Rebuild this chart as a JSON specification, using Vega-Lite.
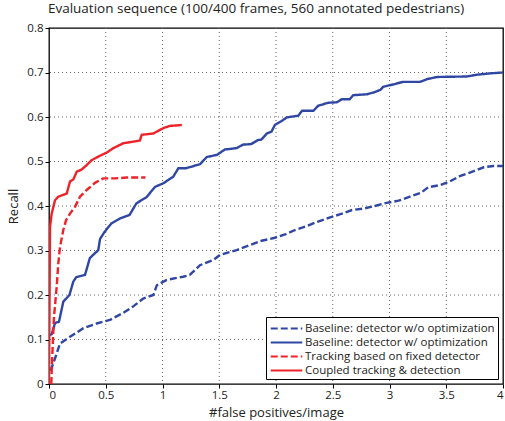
{
  "$schema": "https://vega.github.io/schema/vega-lite/v6.json",
  "width": 454,
  "height": 356,
  "autosize": {"type": "none"},
  "padding": {"left": 49, "top": 28, "right": 2, "bottom": 37},
  "background": "white",
  "title": {"text": "Evaluation sequence (100/400 frames, 560 annotated pedestrians)", "font": "Open Sans", "fontSize": 13.5, "fontWeight": "normal", "color": "#222", "anchor": "middle", "dx": -20, "offset": 7},
  "config": {
    "view": {"stroke": "black", "strokeWidth": 1.3},
    "axis": {"labelFont": "Open Sans", "titleFont": "Open Sans", "labelFontSize": 11.5, "titleFontSize": 13, "titleFontWeight": "normal", "labelColor": "#222", "titleColor": "#222", "domain": false, "tickColor": "black", "tickSize": 4, "grid": false},
    "legend": {"labelFont": "Open Sans", "labelFontSize": 11.5, "labelColor": "#222"}
  },
  "layer": [
    {
      "data": {"values": [{"gx": 0.5}, {"gx": 1}, {"gx": 1.5}, {"gx": 2}, {"gx": 2.5}, {"gx": 3}, {"gx": 3.5}]},
      "mark": {"type": "rule", "color": "#666", "strokeWidth": 1, "strokeDash": [1, 3]},
      "encoding": {"x": {"field": "gx", "type": "quantitative", "scale": {"domain": [0, 4], "nice": false}, "axis": {"title": "#false positives/image", "values": [0, 0.5, 1, 1.5, 2, 2.5, 3, 3.5, 4], "format": "~g", "labelPadding": 1, "titlePadding": 6}}}
    },
    {
      "data": {"values": [{"gy": 0.1}, {"gy": 0.2}, {"gy": 0.3}, {"gy": 0.4}, {"gy": 0.5}, {"gy": 0.6}, {"gy": 0.7}]},
      "mark": {"type": "rule", "color": "#666", "strokeWidth": 1, "strokeDash": [1, 3]},
      "encoding": {"y": {"field": "gy", "type": "quantitative", "scale": {"domain": [0, 0.8], "nice": false}, "axis": {"title": "Recall", "values": [0, 0.1, 0.2, 0.3, 0.4, 0.5, 0.6, 0.7, 0.8], "format": "~g", "labelPadding": 2, "titlePadding": 6}}}
    },
    {
      "data": {"values": [
        {"s": "Baseline: detector w/o optimization", "x": 0.01, "y": 0.03},
        {"s": "Baseline: detector w/o optimization", "x": 0.038, "y": 0.046},
        {"s": "Baseline: detector w/o optimization", "x": 0.068, "y": 0.069},
        {"s": "Baseline: detector w/o optimization", "x": 0.097, "y": 0.091},
        {"s": "Baseline: detector w/o optimization", "x": 0.185, "y": 0.106},
        {"s": "Baseline: detector w/o optimization", "x": 0.30, "y": 0.125},
        {"s": "Baseline: detector w/o optimization", "x": 0.42, "y": 0.136},
        {"s": "Baseline: detector w/o optimization", "x": 0.537, "y": 0.144},
        {"s": "Baseline: detector w/o optimization", "x": 0.655, "y": 0.16},
        {"s": "Baseline: detector w/o optimization", "x": 0.74, "y": 0.174},
        {"s": "Baseline: detector w/o optimization", "x": 0.83, "y": 0.192},
        {"s": "Baseline: detector w/o optimization", "x": 0.92, "y": 0.2},
        {"s": "Baseline: detector w/o optimization", "x": 0.95, "y": 0.222},
        {"s": "Baseline: detector w/o optimization", "x": 1.037, "y": 0.234},
        {"s": "Baseline: detector w/o optimization", "x": 1.18, "y": 0.241},
        {"s": "Baseline: detector w/o optimization", "x": 1.24, "y": 0.245},
        {"s": "Baseline: detector w/o optimization", "x": 1.33, "y": 0.267},
        {"s": "Baseline: detector w/o optimization", "x": 1.45, "y": 0.279},
        {"s": "Baseline: detector w/o optimization", "x": 1.507, "y": 0.29},
        {"s": "Baseline: detector w/o optimization", "x": 1.654, "y": 0.301},
        {"s": "Baseline: detector w/o optimization", "x": 1.77, "y": 0.312},
        {"s": "Baseline: detector w/o optimization", "x": 1.874, "y": 0.322},
        {"s": "Baseline: detector w/o optimization", "x": 1.98, "y": 0.328},
        {"s": "Baseline: detector w/o optimization", "x": 2.08, "y": 0.336},
        {"s": "Baseline: detector w/o optimization", "x": 2.167, "y": 0.346},
        {"s": "Baseline: detector w/o optimization", "x": 2.27, "y": 0.355},
        {"s": "Baseline: detector w/o optimization", "x": 2.37, "y": 0.365},
        {"s": "Baseline: detector w/o optimization", "x": 2.47, "y": 0.374},
        {"s": "Baseline: detector w/o optimization", "x": 2.56, "y": 0.381},
        {"s": "Baseline: detector w/o optimization", "x": 2.67, "y": 0.391},
        {"s": "Baseline: detector w/o optimization", "x": 2.77, "y": 0.394},
        {"s": "Baseline: detector w/o optimization", "x": 2.87, "y": 0.4},
        {"s": "Baseline: detector w/o optimization", "x": 2.975, "y": 0.407},
        {"s": "Baseline: detector w/o optimization", "x": 3.08, "y": 0.412},
        {"s": "Baseline: detector w/o optimization", "x": 3.18, "y": 0.421},
        {"s": "Baseline: detector w/o optimization", "x": 3.28, "y": 0.43},
        {"s": "Baseline: detector w/o optimization", "x": 3.34, "y": 0.442},
        {"s": "Baseline: detector w/o optimization", "x": 3.445, "y": 0.447},
        {"s": "Baseline: detector w/o optimization", "x": 3.53, "y": 0.455},
        {"s": "Baseline: detector w/o optimization", "x": 3.62, "y": 0.467},
        {"s": "Baseline: detector w/o optimization", "x": 3.72, "y": 0.476},
        {"s": "Baseline: detector w/o optimization", "x": 3.83, "y": 0.487},
        {"s": "Baseline: detector w/o optimization", "x": 3.915, "y": 0.49},
        {"s": "Baseline: detector w/o optimization", "x": 4.0, "y": 0.49},
        {"s": "Baseline: detector w/ optimization", "x": 0.005, "y": 0.11},
        {"s": "Baseline: detector w/ optimization", "x": 0.024, "y": 0.112},
        {"s": "Baseline: detector w/ optimization", "x": 0.053, "y": 0.137},
        {"s": "Baseline: detector w/ optimization", "x": 0.088, "y": 0.14},
        {"s": "Baseline: detector w/ optimization", "x": 0.126, "y": 0.185},
        {"s": "Baseline: detector w/ optimization", "x": 0.18, "y": 0.2},
        {"s": "Baseline: detector w/ optimization", "x": 0.214, "y": 0.23},
        {"s": "Baseline: detector w/ optimization", "x": 0.24, "y": 0.24},
        {"s": "Baseline: detector w/ optimization", "x": 0.317, "y": 0.245},
        {"s": "Baseline: detector w/ optimization", "x": 0.36, "y": 0.283},
        {"s": "Baseline: detector w/ optimization", "x": 0.434, "y": 0.301},
        {"s": "Baseline: detector w/ optimization", "x": 0.45, "y": 0.326},
        {"s": "Baseline: detector w/ optimization", "x": 0.49, "y": 0.342},
        {"s": "Baseline: detector w/ optimization", "x": 0.55, "y": 0.361},
        {"s": "Baseline: detector w/ optimization", "x": 0.626, "y": 0.372},
        {"s": "Baseline: detector w/ optimization", "x": 0.71, "y": 0.38},
        {"s": "Baseline: detector w/ optimization", "x": 0.77, "y": 0.406},
        {"s": "Baseline: detector w/ optimization", "x": 0.86, "y": 0.42},
        {"s": "Baseline: detector w/ optimization", "x": 0.934, "y": 0.443},
        {"s": "Baseline: detector w/ optimization", "x": 1.007, "y": 0.451},
        {"s": "Baseline: detector w/ optimization", "x": 1.095, "y": 0.466},
        {"s": "Baseline: detector w/ optimization", "x": 1.14, "y": 0.485},
        {"s": "Baseline: detector w/ optimization", "x": 1.21, "y": 0.485},
        {"s": "Baseline: detector w/ optimization", "x": 1.33, "y": 0.494},
        {"s": "Baseline: detector w/ optimization", "x": 1.39, "y": 0.51},
        {"s": "Baseline: detector w/ optimization", "x": 1.48, "y": 0.515},
        {"s": "Baseline: detector w/ optimization", "x": 1.55, "y": 0.527},
        {"s": "Baseline: detector w/ optimization", "x": 1.654, "y": 0.53},
        {"s": "Baseline: detector w/ optimization", "x": 1.71, "y": 0.538},
        {"s": "Baseline: detector w/ optimization", "x": 1.78, "y": 0.539},
        {"s": "Baseline: detector w/ optimization", "x": 1.84, "y": 0.548},
        {"s": "Baseline: detector w/ optimization", "x": 1.87, "y": 0.549},
        {"s": "Baseline: detector w/ optimization", "x": 1.92, "y": 0.563},
        {"s": "Baseline: detector w/ optimization", "x": 1.96, "y": 0.567},
        {"s": "Baseline: detector w/ optimization", "x": 1.99, "y": 0.582},
        {"s": "Baseline: detector w/ optimization", "x": 2.05, "y": 0.591},
        {"s": "Baseline: detector w/ optimization", "x": 2.094, "y": 0.599},
        {"s": "Baseline: detector w/ optimization", "x": 2.196, "y": 0.603},
        {"s": "Baseline: detector w/ optimization", "x": 2.23, "y": 0.614},
        {"s": "Baseline: detector w/ optimization", "x": 2.33, "y": 0.614},
        {"s": "Baseline: detector w/ optimization", "x": 2.37, "y": 0.625},
        {"s": "Baseline: detector w/ optimization", "x": 2.46, "y": 0.632},
        {"s": "Baseline: detector w/ optimization", "x": 2.535, "y": 0.633},
        {"s": "Baseline: detector w/ optimization", "x": 2.58, "y": 0.64},
        {"s": "Baseline: detector w/ optimization", "x": 2.65, "y": 0.64},
        {"s": "Baseline: detector w/ optimization", "x": 2.68, "y": 0.649},
        {"s": "Baseline: detector w/ optimization", "x": 2.8, "y": 0.651},
        {"s": "Baseline: detector w/ optimization", "x": 2.86, "y": 0.655},
        {"s": "Baseline: detector w/ optimization", "x": 2.92, "y": 0.661},
        {"s": "Baseline: detector w/ optimization", "x": 2.945, "y": 0.668},
        {"s": "Baseline: detector w/ optimization", "x": 3.03, "y": 0.673},
        {"s": "Baseline: detector w/ optimization", "x": 3.12, "y": 0.679},
        {"s": "Baseline: detector w/ optimization", "x": 3.27, "y": 0.679},
        {"s": "Baseline: detector w/ optimization", "x": 3.33, "y": 0.685},
        {"s": "Baseline: detector w/ optimization", "x": 3.42, "y": 0.69},
        {"s": "Baseline: detector w/ optimization", "x": 3.68, "y": 0.691},
        {"s": "Baseline: detector w/ optimization", "x": 3.77, "y": 0.695},
        {"s": "Baseline: detector w/ optimization", "x": 3.885, "y": 0.698},
        {"s": "Baseline: detector w/ optimization", "x": 4.0, "y": 0.70},
        {"s": "Tracking based on fixed detector", "x": 0.02, "y": 0.0},
        {"s": "Tracking based on fixed detector", "x": 0.03, "y": 0.07},
        {"s": "Tracking based on fixed detector", "x": 0.044, "y": 0.151},
        {"s": "Tracking based on fixed detector", "x": 0.068, "y": 0.219},
        {"s": "Tracking based on fixed detector", "x": 0.082, "y": 0.271},
        {"s": "Tracking based on fixed detector", "x": 0.097, "y": 0.308},
        {"s": "Tracking based on fixed detector", "x": 0.126, "y": 0.346},
        {"s": "Tracking based on fixed detector", "x": 0.15, "y": 0.368},
        {"s": "Tracking based on fixed detector", "x": 0.185, "y": 0.383},
        {"s": "Tracking based on fixed detector", "x": 0.229, "y": 0.398},
        {"s": "Tracking based on fixed detector", "x": 0.273, "y": 0.421},
        {"s": "Tracking based on fixed detector", "x": 0.332, "y": 0.436},
        {"s": "Tracking based on fixed detector", "x": 0.405, "y": 0.452},
        {"s": "Tracking based on fixed detector", "x": 0.478, "y": 0.462},
        {"s": "Tracking based on fixed detector", "x": 0.58, "y": 0.462},
        {"s": "Tracking based on fixed detector", "x": 0.684, "y": 0.464},
        {"s": "Tracking based on fixed detector", "x": 0.85, "y": 0.464},
        {"s": "Coupled tracking & detection", "x": 0.0, "y": 0.0},
        {"s": "Coupled tracking & detection", "x": 0.005, "y": 0.2},
        {"s": "Coupled tracking & detection", "x": 0.009, "y": 0.353},
        {"s": "Coupled tracking & detection", "x": 0.024, "y": 0.383},
        {"s": "Coupled tracking & detection", "x": 0.053, "y": 0.413},
        {"s": "Coupled tracking & detection", "x": 0.082, "y": 0.421},
        {"s": "Coupled tracking & detection", "x": 0.156, "y": 0.428},
        {"s": "Coupled tracking & detection", "x": 0.185, "y": 0.455},
        {"s": "Coupled tracking & detection", "x": 0.215, "y": 0.46},
        {"s": "Coupled tracking & detection", "x": 0.244, "y": 0.477},
        {"s": "Coupled tracking & detection", "x": 0.288, "y": 0.482},
        {"s": "Coupled tracking & detection", "x": 0.332, "y": 0.492},
        {"s": "Coupled tracking & detection", "x": 0.376, "y": 0.503},
        {"s": "Coupled tracking & detection", "x": 0.434, "y": 0.511},
        {"s": "Coupled tracking & detection", "x": 0.508, "y": 0.52},
        {"s": "Coupled tracking & detection", "x": 0.567, "y": 0.53},
        {"s": "Coupled tracking & detection", "x": 0.655, "y": 0.541},
        {"s": "Coupled tracking & detection", "x": 0.80, "y": 0.547},
        {"s": "Coupled tracking & detection", "x": 0.817, "y": 0.56},
        {"s": "Coupled tracking & detection", "x": 0.92, "y": 0.563},
        {"s": "Coupled tracking & detection", "x": 1.007, "y": 0.575},
        {"s": "Coupled tracking & detection", "x": 1.066, "y": 0.58},
        {"s": "Coupled tracking & detection", "x": 1.17, "y": 0.582}
      ]},
      "mark": {"type": "line", "strokeWidth": 2.4, "clip": true},
      "encoding": {
        "x": {"field": "x", "type": "quantitative", "scale": {"domain": [0, 4], "nice": false}, "axis": {"title": "#false positives/image", "values": [0, 0.5, 1, 1.5, 2, 2.5, 3, 3.5, 4], "format": "~g", "labelPadding": 1, "titlePadding": 6}},
        "y": {"field": "y", "type": "quantitative", "scale": {"domain": [0, 0.8], "nice": false}, "axis": {"title": "Recall", "values": [0, 0.1, 0.2, 0.3, 0.4, 0.5, 0.6, 0.7, 0.8], "format": "~g", "labelPadding": 2, "titlePadding": 6}},
        "color": {"field": "s", "type": "nominal", "scale": {"domain": ["Baseline: detector w/o optimization", "Baseline: detector w/ optimization", "Tracking based on fixed detector", "Coupled tracking & detection"], "range": ["#2F47A3", "#2F47A3", "#EE2229", "#EE2229"]}, "legend": {"title": null, "orient": "bottom-right", "offset": 5, "symbolType": "M-2.1,0H2.1", "symbolSize": 225, "symbolStrokeWidth": 2, "symbolOffset": 9, "strokeColor": "black", "fillColor": "white", "padding": 3, "rowPadding": 0, "labelOffset": 10, "labelLimit": 400, "zindex": 2}},
        "strokeDash": {"field": "s", "type": "nominal", "scale": {"domain": ["Baseline: detector w/o optimization", "Baseline: detector w/ optimization", "Tracking based on fixed detector", "Coupled tracking & detection"], "range": [[7, 3], [1, 0], [7, 3], [1, 0]]}, "legend": {"title": null, "orient": "bottom-right", "offset": 5, "symbolType": "M-2.1,0H2.1", "symbolSize": 225, "symbolStrokeWidth": 2, "symbolOffset": 9, "strokeColor": "black", "fillColor": "white", "padding": 3, "rowPadding": 0, "labelOffset": 10, "labelLimit": 400, "zindex": 2}}
      }
    }
  ]
}
